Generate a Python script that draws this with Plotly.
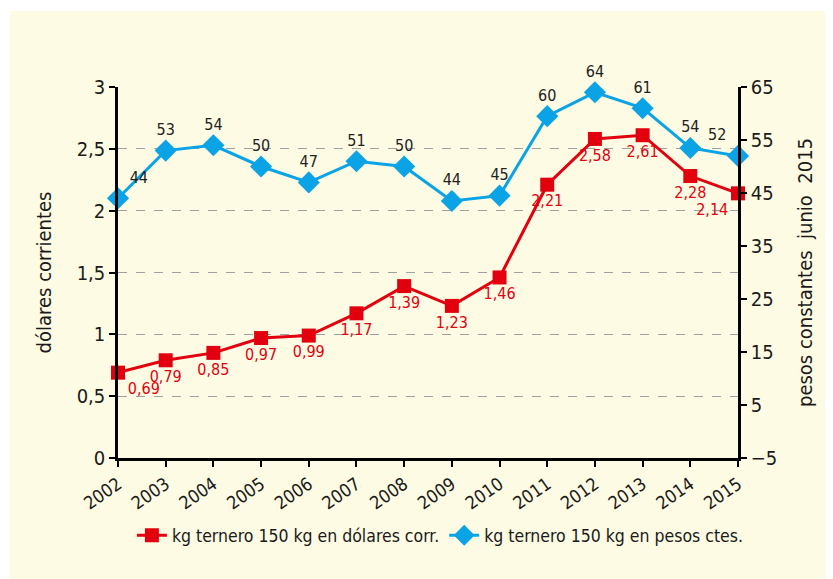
import plotly.graph_objects as go

years = [2002, 2003, 2004, 2005, 2006, 2007, 2008, 2009, 2010, 2011, 2012, 2013, 2014, 2015]
usd_corr = [0.69, 0.79, 0.85, 0.97, 0.99, 1.17, 1.39, 1.23, 1.46, 2.21, 2.58, 2.61, 2.28, 2.14]
pesos_ctes = [44, 53, 54, 50, 47, 51, 50, 43.5, 44.5, 59.5, 64, 61, 53.5, 52]
pesos_labels = ["44", "53", "54", "50", "47", "51", "50", "44", "45", "60", "64", "61", "54", "52"]

usd_name = "kg ternero 150 kg en dólares corr."
pesos_name = "kg ternero 150 kg en pesos ctes."

RED = "#E2000F"
BLUE = "#0AA3E6"
BG = "#FDFBE3"
FONT = "Liberation Sans Narrow, DejaVu Sans Condensed, sans-serif"

usd_text = [f"{v:.2f}".replace(".", ",") for v in usd_corr]
usd_pos = ["bottom right"] + ["bottom center"] * 12 + ["bottom left"]
pesos_pos = ["top right"] + ["top center"] * 12 + ["top left"]

# page body adds 8px offset; plot area sits at 118..738 x 87..458 in window
L, T, W, H = 110, 79, 620, 371

fig = go.Figure()

fig.add_trace(go.Scatter(
    x=years, y=usd_corr, name=usd_name, mode="lines+markers+text",
    line=dict(color=RED, width=3),
    marker=dict(symbol="square", size=14, color=RED),
    text=usd_text, textposition=usd_pos,
    textfont=dict(color=RED, size=16, family=FONT),
    cliponaxis=False,
))

fig.add_trace(go.Scatter(
    x=years, y=pesos_ctes, name=pesos_name, mode="lines+markers+text",
    yaxis="y2",
    line=dict(color=BLUE, width=3),
    marker=dict(symbol="diamond", size=17, color=BLUE),
    text=pesos_labels, textposition=pesos_pos,
    textfont=dict(color="#222222", size=16, family=FONT),
    cliponaxis=False,
))

# light yellow panel behind everything, leaving a thin white frame top/left
fig.add_shape(type="rect", xref="paper", yref="paper",
              x0=(2 - L) / W, x1=1 + 200 / W, y0=-200 / H, y1=1 + (T - 3) / H,
              fillcolor=BG, line=dict(width=0), layer="below")

fig.update_layout(
    width=833, height=579,
    margin=dict(l=L, r=833 - L - W, t=T, b=579 - T - H),
    paper_bgcolor="white", plot_bgcolor=BG,
    font=dict(family=FONT, size=20, color="#1a1a1a"),
    separators=",.",
    showlegend=True,
    legend=dict(orientation="h", x=0.52, xanchor="center", y=-0.16, yanchor="top",
                font=dict(size=17.5), bgcolor="rgba(0,0,0,0)",
                itemwidth=30, tracegroupgap=0),
    xaxis=dict(
        range=[2002, 2015], tickvals=years, ticktext=[str(y) for y in years],
        tickangle=-35, showgrid=False, zeroline=False,
        showline=True, linecolor="black", linewidth=2.5,
        ticks="outside", ticklen=6, tickwidth=2, tickcolor="black",
        tickfont=dict(size=18),
    ),
    yaxis=dict(
        range=[0, 3], dtick=0.5, tickformat=".1~f",
        title=dict(text="dólares corrientes", font=dict(size=20), standoff=20),
        showgrid=True, gridcolor="#A0A0A0", griddash="dash", gridwidth=1.2,
        zeroline=False, showline=True, linecolor="black", linewidth=2.5,
        ticks="outside", ticklen=6, tickwidth=2, tickcolor="black",
    ),
    yaxis2=dict(
        range=[-5, 65], tick0=-5, dtick=10, overlaying="y", side="right",
        title=dict(text="pesos constantes  junio  2015", font=dict(size=20), standoff=22),
        showgrid=False, zeroline=False, showline=True, linecolor="black", linewidth=2.5,
        ticks="outside", ticklen=6, tickwidth=2, tickcolor="black",
    ),
)

fig.write_html("out.html")
